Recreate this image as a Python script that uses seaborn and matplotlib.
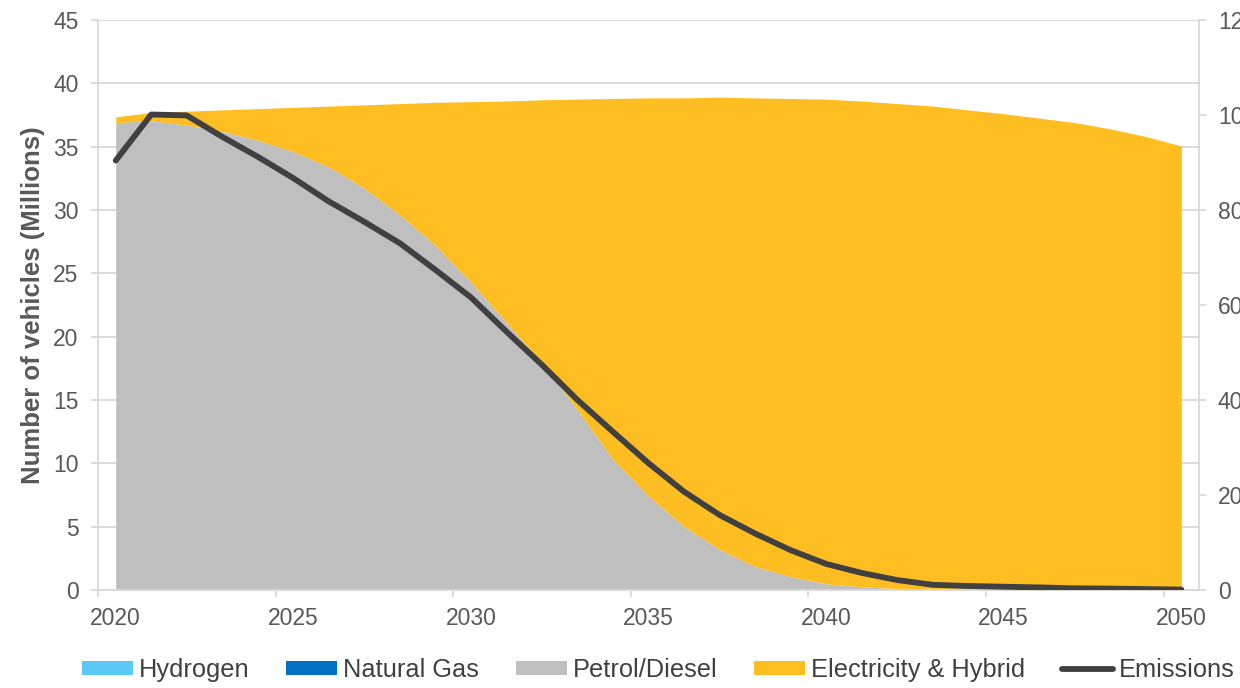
import matplotlib

matplotlib.use("Agg")
import matplotlib.pyplot as plt
import pandas as pd
import seaborn as sns

years = list(range(2020, 2051))

hydrogen = [0.0] * 31
natural_gas = [0.0] * 31
petrol_diesel = [
    36.9, 37.05, 36.7, 36.2, 35.5, 34.6, 33.4, 31.7, 29.6, 27.2,
    24.3, 21.1, 17.9, 14.2, 10.3, 7.4, 5.0, 3.2, 1.85, 1.05,
    0.5, 0.25, 0.12, 0.06, 0.03, 0.0, 0.0, 0.0, 0.0, 0.0, 0.0,
]
electricity_hybrid = [
    0.45, 0.65, 1.1, 1.7, 2.5, 3.5, 4.8, 6.6, 8.8, 11.3,
    14.25, 17.5, 20.8, 24.55, 28.5, 31.45, 33.85, 35.7, 37.0, 37.75,
    38.25, 38.35, 38.28, 38.14, 37.87, 37.6, 37.25, 36.9, 36.4, 35.8, 35.05,
]
emissions = [
    90.4, 100.1, 99.9, 95.4, 91.2, 86.7, 81.8, 77.5, 73.0, 67.4,
    61.6, 54.4, 47.4, 40.0, 33.3, 26.7, 20.7, 15.8, 11.9, 8.4,
    5.5, 3.6, 2.1, 1.1, 0.85, 0.7, 0.55, 0.35, 0.3, 0.2, 0.1,
]

series_names = ["Hydrogen", "Natural Gas", "Petrol/Diesel", "Electricity & Hybrid"]
series_colors = ["#5BC8F5", "#0070C0", "#BFBFBF", "#FEBE22"]
line_color = "#404040"
text_color = "#595959"
grid_color = "#D9D9D9"

sns.set_theme(style="white")
plt.rcParams["font.family"] = ["Liberation Sans", "DejaVu Sans"]

df = pd.DataFrame({"year": years, "emissions": emissions})

fig = plt.figure(figsize=(12.4, 6.88), dpi=100)
fig.subplots_adjust(left=0.079, right=0.967, top=0.971, bottom=0.1424)
ax = fig.add_subplot(111)

areas = ax.stackplot(
    years,
    hydrogen,
    natural_gas,
    petrol_diesel,
    electricity_hybrid,
    colors=series_colors,
    labels=series_names,
    linewidth=0,
)

ax.set_xlim(2019.5, 2050.5)
ax.set_ylim(0, 45)
ax.set_yticks(range(0, 46, 5))
ax.yaxis.grid(True, color=grid_color, linewidth=1.3)
ax.set_axisbelow(True)

# tick marks sit between categories, labels at the category centres
ax.set_xticks([y - 0.5 for y in range(2020, 2051, 5)])
ax.set_xticklabels([])
ax.set_xticks(range(2020, 2051, 5), minor=True)
ax.set_xticklabels([str(y) for y in range(2020, 2051, 5)], minor=True)
ax.tick_params(axis="x", which="major", direction="out", length=5, width=1.3, color=grid_color, bottom=True)
ax.tick_params(axis="x", which="minor", length=0, pad=12, labelsize=16.5, labelcolor=text_color)
ax.tick_params(axis="y", direction="out", length=5, width=1.3, color=grid_color, left=True,
               labelsize=16.5, labelcolor=text_color, pad=9)

ax.set_ylabel("Number of vehicles (Millions)", fontsize=18.5, fontweight="bold", color=text_color, labelpad=6)
ax.set_xlabel("")

for side in ["left", "bottom", "right", "top"]:
    ax.spines[side].set_color(grid_color)
    ax.spines[side].set_linewidth(1.3)
ax.spines["top"].set_visible(False)

ax2 = ax.twinx()
sns.lineplot(data=df, x="year", y="emissions", ax=ax2, color=line_color, linewidth=4.2,
             legend=False, label="Emissions")
ax2.lines[0].set_solid_capstyle("round")
ax2.set_ylim(0, 120)
ax2.set_yticks(range(0, 121, 20))
ax2.set_ylabel("")
ax2.tick_params(axis="y", direction="out", length=5, width=1.3, color=grid_color, right=True,
                labelsize=16.5, labelcolor=text_color, pad=8.5)
ax2.grid(False)
for side in ["left", "bottom", "right", "top"]:
    ax2.spines[side].set_visible(False)

handles = list(areas) + [ax2.lines[0]]
labels = series_names + ["Emissions"]
fig.legend(
    handles,
    labels,
    loc="center",
    bbox_to_anchor=(0.531, 0.026),
    ncol=5,
    frameon=False,
    fontsize=18.3,
    labelcolor="#404040",
    handlelength=2.0,
    handleheight=0.5,
    handletextpad=0.24,
    columnspacing=1.45,
)

fig.savefig("out.png", dpi=100)
